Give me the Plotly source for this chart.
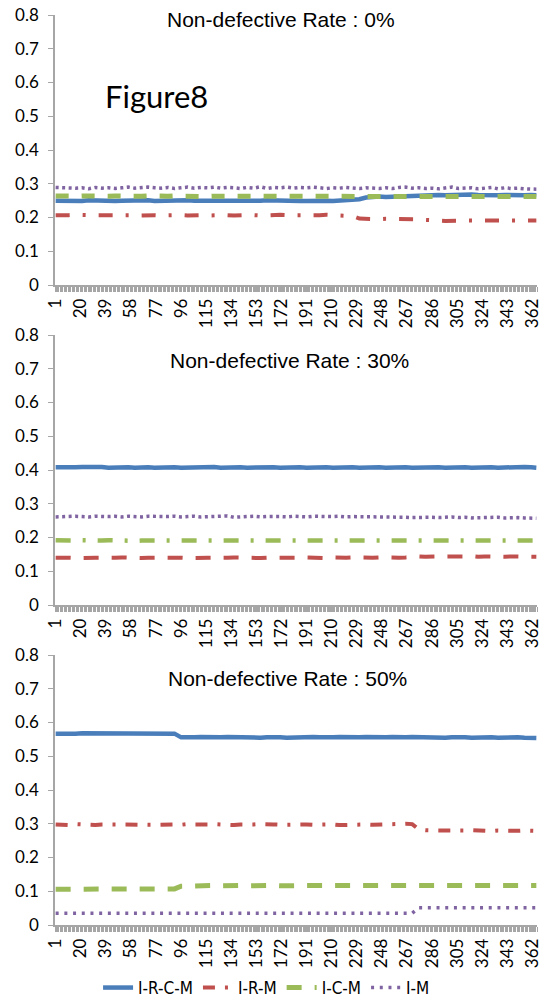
import plotly.graph_objects as go

W, H = 544, 999

# Period index (1..365), sampled every 5 periods
x_points = list(range(1, 362, 5)) + [365]

series_names = ["I-R-C-M", "I-R-M", "I-C-M", "I-M"]
panel_titles = ["Non-defective Rate : 0%", "Non-defective Rate : 30%", "Non-defective Rate : 50%"]

# ---------- Non-defective rate 0% ----------
p0_irc_m = [0.250,0.249,0.251,0.250,0.249,0.251,0.250,0.250,0.251,0.249,
            0.250,0.251,0.249,0.250,0.251,0.249,0.250,0.251,0.250,0.250,
            0.251,0.250,0.249,0.251,0.250,0.250,0.249,0.251,0.250,0.250,
            0.249,0.250,0.251,0.250,0.249,0.250,0.248,0.249,0.249,0.250,
            0.249,0.250,0.249,0.250,0.250,0.250,0.254,0.259,0.262,0.262,
            0.261,0.262,0.262,0.263,0.262,0.264,0.267,0.266,0.267,0.266,
            0.267,0.266,0.267,0.268,0.267,0.266,0.267,0.266,0.267,0.266,
            0.267,0.266,0.267,0.266]
p0_ir_m = [0.207,0.206,0.207,0.208,0.207,0.206,0.207,0.207,0.206,0.207,
           0.207,0.208,0.207,0.206,0.207,0.207,0.206,0.207,0.208,0.207,
           0.206,0.207,0.207,0.206,0.207,0.208,0.207,0.206,0.207,0.207,
           0.207,0.206,0.207,0.207,0.208,0.207,0.206,0.207,0.207,0.206,
           0.207,0.208,0.207,0.206,0.207,0.204,0.197,0.196,0.196,0.195,
           0.196,0.196,0.195,0.196,0.196,0.195,0.193,0.191,0.191,0.190,
           0.191,0.190,0.191,0.191,0.190,0.191,0.191,0.190,0.191,0.191,
           0.190,0.191,0.191,0.191]
p0_ic_m = [0.264,0.263,0.262,0.263,0.264,0.263,0.263,0.262,0.263,0.264,
           0.263,0.262,0.263,0.263,0.264,0.263,0.262,0.263,0.264,0.263,
           0.263,0.264,0.263,0.262,0.263,0.263,0.264,0.263,0.262,0.263,
           0.263,0.264,0.263,0.262,0.263,0.263,0.264,0.263,0.262,0.263,
           0.263,0.262,0.263,0.264,0.263,0.263,0.264,0.264,0.263,0.263,
           0.263,0.264,0.263,0.262,0.263,0.264,0.263,0.263,0.262,0.263,
           0.263,0.262,0.263,0.263,0.262,0.263,0.263,0.262,0.263,0.262,
           0.263,0.262,0.262,0.262]
p0_i_m = [0.289,0.288,0.286,0.287,0.288,0.285,0.289,0.287,0.288,0.286,
          0.288,0.290,0.287,0.289,0.290,0.288,0.287,0.289,0.286,0.288,
          0.290,0.287,0.289,0.288,0.290,0.287,0.289,0.288,0.286,0.289,
          0.287,0.291,0.286,0.289,0.288,0.290,0.287,0.289,0.288,0.290,
          0.289,0.286,0.288,0.287,0.289,0.288,0.286,0.288,0.287,0.286,
          0.288,0.286,0.289,0.290,0.287,0.288,0.286,0.287,0.285,0.288,
          0.290,0.286,0.287,0.288,0.285,0.288,0.289,0.285,0.288,0.286,
          0.287,0.285,0.284,0.284]

# ---------- Non-defective rate 30% ----------
p30_irc_m = [0.408,0.407,0.409,0.408,0.409,0.410,0.408,0.409,0.407,0.408,
             0.409,0.408,0.407,0.409,0.408,0.407,0.408,0.406,0.408,0.407,
             0.408,0.409,0.407,0.408,0.409,0.407,0.408,0.409,0.408,0.407,
             0.408,0.407,0.409,0.408,0.407,0.408,0.409,0.408,0.407,0.408,
             0.409,0.408,0.407,0.408,0.409,0.408,0.407,0.408,0.409,0.408,
             0.407,0.408,0.409,0.408,0.407,0.408,0.409,0.410,0.408,0.407,
             0.408,0.409,0.408,0.407,0.408,0.409,0.408,0.407,0.408,0.409,
             0.408,0.409,0.408,0.407]
p30_ir_m = [0.140,0.141,0.140,0.139,0.140,0.141,0.140,0.140,0.139,0.140,
            0.141,0.140,0.140,0.139,0.140,0.141,0.140,0.140,0.141,0.140,
            0.139,0.140,0.141,0.140,0.140,0.139,0.140,0.141,0.140,0.140,
            0.140,0.139,0.140,0.141,0.140,0.140,0.139,0.140,0.141,0.140,
            0.140,0.139,0.141,0.140,0.140,0.141,0.140,0.139,0.140,0.141,
            0.140,0.141,0.140,0.141,0.143,0.144,0.143,0.144,0.143,0.144,
            0.144,0.143,0.144,0.145,0.143,0.144,0.143,0.144,0.143,0.144,
            0.144,0.143,0.144,0.143]
p30_ic_m = [0.192,0.191,0.190,0.191,0.192,0.191,0.190,0.191,0.192,0.191,
            0.191,0.192,0.190,0.191,0.191,0.190,0.192,0.191,0.190,0.191,
            0.192,0.191,0.190,0.191,0.192,0.191,0.191,0.190,0.192,0.191,
            0.191,0.190,0.191,0.192,0.191,0.190,0.191,0.192,0.191,0.191,
            0.190,0.191,0.192,0.191,0.190,0.191,0.191,0.192,0.191,0.190,
            0.191,0.192,0.191,0.190,0.191,0.192,0.191,0.190,0.191,0.191,
            0.192,0.191,0.190,0.191,0.191,0.192,0.190,0.191,0.191,0.192,
            0.191,0.190,0.191,0.191]
p30_i_m = [0.261,0.262,0.261,0.263,0.262,0.261,0.263,0.262,0.262,0.263,
           0.261,0.263,0.262,0.261,0.263,0.262,0.261,0.262,0.263,0.261,
           0.262,0.263,0.261,0.262,0.263,0.262,0.264,0.260,0.262,0.262,
           0.263,0.261,0.262,0.263,0.262,0.261,0.263,0.262,0.261,0.263,
           0.262,0.261,0.262,0.263,0.261,0.262,0.262,0.261,0.262,0.261,
           0.260,0.261,0.262,0.260,0.259,0.260,0.259,0.260,0.259,0.260,
           0.261,0.259,0.260,0.258,0.259,0.260,0.259,0.260,0.258,0.259,
           0.259,0.258,0.257,0.257]

# ---------- Non-defective rate 50% ----------
p50_irc_m = [0.567,0.566,0.565,0.567,0.568,0.568,0.567,0.568,0.567,0.566,
             0.567,0.566,0.565,0.566,0.567,0.566,0.567,0.566,0.567,0.556,
             0.555,0.556,0.557,0.556,0.555,0.556,0.557,0.556,0.555,0.557,
             0.556,0.555,0.556,0.557,0.556,0.555,0.556,0.557,0.556,0.557,
             0.556,0.555,0.556,0.557,0.556,0.555,0.556,0.557,0.556,0.555,
             0.556,0.557,0.555,0.556,0.557,0.556,0.555,0.557,0.556,0.555,
             0.556,0.557,0.556,0.555,0.556,0.557,0.556,0.555,0.556,0.557,
             0.556,0.555,0.556,0.554]
p50_ir_m = [0.298,0.297,0.296,0.299,0.297,0.297,0.296,0.298,0.299,0.298,
            0.298,0.297,0.299,0.298,0.297,0.297,0.298,0.299,0.298,0.297,
            0.299,0.298,0.297,0.298,0.299,0.297,0.298,0.296,0.298,0.297,
            0.298,0.299,0.297,0.298,0.297,0.298,0.296,0.297,0.298,0.297,
            0.298,0.297,0.298,0.296,0.297,0.298,0.297,0.298,0.297,0.298,
            0.299,0.298,0.299,0.300,0.299,0.283,0.281,0.280,0.279,0.280,
            0.280,0.279,0.280,0.281,0.280,0.279,0.278,0.280,0.279,0.280,
            0.279,0.280,0.279,0.279]
p50_ic_m = [0.106,0.106,0.105,0.106,0.106,0.106,0.105,0.106,0.106,0.106,
            0.106,0.105,0.106,0.106,0.105,0.106,0.106,0.106,0.107,0.115,
            0.116,0.117,0.116,0.117,0.117,0.116,0.117,0.118,0.117,0.116,
            0.117,0.116,0.117,0.117,0.116,0.117,0.117,0.116,0.117,0.117,
            0.117,0.116,0.117,0.117,0.116,0.117,0.117,0.116,0.117,0.116,
            0.117,0.117,0.116,0.117,0.117,0.116,0.117,0.117,0.116,0.117,
            0.116,0.117,0.117,0.116,0.117,0.117,0.116,0.117,0.117,0.116,
            0.117,0.117,0.116,0.117]
p50_i_m = [0.035,0.035,0.035,0.035,0.035,0.035,0.035,0.035,0.035,0.035,
           0.035,0.035,0.035,0.035,0.035,0.035,0.035,0.035,0.035,0.035,
           0.035,0.035,0.035,0.035,0.035,0.035,0.035,0.035,0.035,0.035,
           0.035,0.035,0.035,0.035,0.035,0.035,0.035,0.035,0.035,0.035,
           0.035,0.035,0.035,0.035,0.035,0.035,0.035,0.035,0.035,0.035,
           0.035,0.035,0.035,0.035,0.035,0.051,0.051,0.051,0.051,0.051,
           0.051,0.051,0.051,0.051,0.051,0.051,0.051,0.051,0.051,0.051,
           0.051,0.051,0.051,0.051]

panels = [
    [p0_irc_m, p0_ir_m, p0_ic_m, p0_i_m],
    [p30_irc_m, p30_ir_m, p30_ic_m, p30_i_m],
    [p50_irc_m, p50_ir_m, p50_ic_m, p50_i_m],
]

colors = ["#4a7ebb", "#c0504d", "#9bbb59", "#8064a2"]
# per panel line styles: (dash, width) for each series
styles = [
    [("solid", 4.5), ("14px,13px,3px,13px", 4), ("13px,13px", 5), ("3px,3.5px", 3.5)],
    [("solid", 4.5), ("15px,13px", 4), ("15px,12px,3px,12px", 4.5), ("3px,3.5px", 3.5)],
    [("solid", 4.5), ("12px,10px,3px,10px", 4), ("15px,13px", 5), ("3px,5.7px", 3.5)],
]

# plot-area pixel boxes (top, bottom) for each panel
x_left, x_right = 55, 537
boxes = [(15, 285), (335, 605), (655, 925)]

fig = go.Figure()
for p, (vals, sty) in enumerate(zip(panels, styles)):
    ax = "" if p == 0 else str(p + 1)
    for s in range(4):
        dash, width = sty[s]
        fig.add_trace(go.Scatter(
            x=x_points, y=vals[s], mode="lines", name=series_names[s],
            line=dict(color=colors[s], width=width, dash=dash),
            xaxis="x" + ax, yaxis="y" + ax,
            showlegend=(p == 2), hoverinfo="skip",
        ))

axis_gray = "#a6a6a6"
tick_font = dict(family="Lato, Carlito, sans-serif", size=17, color="#000000")
layout = dict(
    template="none",
    width=W, height=H, margin=dict(l=0, r=0, t=0, b=0, autoexpand=False),
    paper_bgcolor="white", plot_bgcolor="white",
    showlegend=True,
    legend=dict(orientation="h", x=0.49, xanchor="center", y=1 - 988 / H, yanchor="middle",
                font=dict(family="Liberation Sans Narrow, DejaVu Sans Condensed, Lato, sans-serif",
                          size=17, color="#000000"),
                itemwidth=30, tracegroupgap=0, bgcolor="rgba(0,0,0,0)"),
    annotations=[],
)
for p, (top, bot) in enumerate(boxes):
    ax = "" if p == 0 else str(p + 1)
    layout["xaxis" + ax] = dict(
        domain=[x_left / W, x_right / W], anchor="y" + ax, automargin=False,
        range=[0.5, 365.5], tickmode="linear", tick0=1, dtick=19,
        ticks="outside", ticklen=5, tickcolor=axis_gray, tickwidth=1,
        tickangle=-90, tickfont=tick_font, showgrid=False, zeroline=False,
        showline=True, linecolor=axis_gray, linewidth=1.5,
        minor=dict(ticks="outside", ticklen=5, tickcolor=axis_gray, tickwidth=1,
                   tickmode="linear", tick0=0.5, dtick=1, showgrid=False),
    )
    layout["yaxis" + ax] = dict(
        domain=[1 - bot / H, 1 - top / H], anchor="x" + ax, automargin=False,
        range=[0, 0.8], tickmode="linear", tick0=0, dtick=0.1,
        ticks="outside", ticklen=5, tickcolor=axis_gray, tickwidth=1,
        tickfont=tick_font, showgrid=False, zeroline=False,
        showline=True, linecolor=axis_gray, linewidth=1.5,
        ticklabelstandoff=6,
    )

title_pos = [(281, 20), (289, 361), (287, 678)]
for t, (cx, cy) in zip(panel_titles, title_pos):
    layout["annotations"].append(dict(
        text=t, x=cx / W, y=1 - cy / H, xref="paper", yref="paper",
        xanchor="center", yanchor="middle", showarrow=False,
        font=dict(family="Liberation Sans, Arial, sans-serif", size=21, color="#000000"),
    ))
layout["annotations"].append(dict(
    text="Figure8", x=103 / W, y=1 - 96 / H, xref="paper", yref="paper",
    xanchor="left", yanchor="middle", showarrow=False,
    font=dict(family="Lato, Carlito, sans-serif", size=31, color="#000000"),
))

fig.update_layout(layout)
fig.write_html("out.html", config={"displayModeBar": False},
               post_script="document.body.style.margin='0px';")
